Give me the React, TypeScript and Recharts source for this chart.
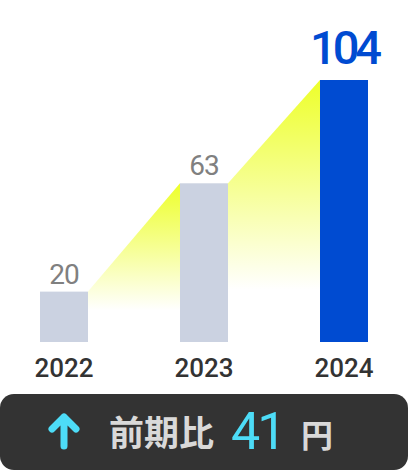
import { Bar, BarChart, LabelList, XAxis, YAxis } from "recharts";

const years = ["2022", "2023", "2024"];
const amounts = [20, 63, 104];
const changeLabel = "前期比";
const changeValue = 41;
const changeUnit = "円";

const chartData = years.map((year, i) => ({ year, amount: amounts[i] }));

const CHART_W = 408;
const CHART_H = 394;
const MARGIN = { top: 80, right: -6, bottom: 0, left: -6 };
const STEP = (CHART_W - MARGIN.left - MARGIN.right) / years.length;
const LAST = years.length - 1;

const GRAY_BAR = "#cbd2e1";
const BLUE_BAR = "#004bd1";

function BarWithRise(props: any) {
  const { x, y, width, height, index, payload } = props;
  const base = y + height;
  let rise = null;
  if (index > 0) {
    const unit = height / payload.amount;
    const prevTop = base - amounts[index - 1] * unit;
    const prevRight = x - STEP + width;
    rise = (
      <polygon
        points={`${prevRight},${prevTop} ${x},${y} ${x},${base} ${prevRight},${base}`}
        fill="url(#riseFill)"
      />
    );
  }
  return (
    <g>
      {rise}
      <rect
        x={x}
        y={y}
        width={width}
        height={height}
        fill={index === LAST ? BLUE_BAR : GRAY_BAR}
      />
    </g>
  );
}

function ValueLabel(props: any) {
  const { x, y, width, value, index } = props;
  const last = index === LAST;
  return (
    <text
      x={x + width / 2}
      y={y - (last ? 16 : 8)}
      textAnchor="middle"
      fill={last ? BLUE_BAR : "#808080"}
      fontFamily="Roboto"
      fontWeight={last ? 500 : 400}
      fontSize={last ? 47 : 28}
      letterSpacing={last ? -4 : -1}
    >
      {value}
    </text>
  );
}

function YearTick(props: any) {
  const { x, y, payload } = props;
  return (
    <text
      x={x}
      y={y + 27}
      textAnchor="middle"
      fill="#333333"
      fontFamily="Roboto"
      fontWeight={500}
      fontSize={26}
    >
      {payload.value}
    </text>
  );
}

export default function App() {
  return (
    <div style={{ width: CHART_W, position: "relative" }}>
      <style>{"body{margin:0}"}</style>
      <BarChart width={CHART_W} height={CHART_H} data={chartData} margin={MARGIN}>
        <defs>
          <linearGradient id="riseFill" x1="0" y1="0" x2="0" y2="1">
            <stop offset="0%" stopColor="#edff2a" stopOpacity={1} />
            <stop offset="40%" stopColor="#f6ff92" stopOpacity={1} />
            <stop offset="80%" stopColor="#ffffff" stopOpacity={1} />
          </linearGradient>
        </defs>
        <XAxis
          dataKey="year"
          axisLine={false}
          tickLine={false}
          height={52}
          tick={<YearTick />}
          interval={0}
        />
        <YAxis hide domain={[0, 104]} />
        <Bar
          dataKey="amount"
          barSize={48}
          shape={<BarWithRise />}
          isAnimationActive={false}
        >
          <LabelList dataKey="amount" content={<ValueLabel />} />
        </Bar>
      </BarChart>
      <div
        style={{
          width: CHART_W,
          height: 76,
          background: "#333333",
          borderRadius: 14,
          position: "relative",
          fontFamily: "'Noto Sans CJK JP', Roboto, sans-serif",
        }}
      >
        <svg
          width={34}
          height={40}
          viewBox="0 0 34 40"
          style={{ position: "absolute", left: 47, top: 17 }}
        >
          <path
            d="M17 35 L17 6 M5 18 L17 6 L29 18"
            stroke="#4ddcf7"
            strokeWidth={7}
            strokeLinecap="round"
            strokeLinejoin="round"
            fill="none"
          />
        </svg>
        <span
          style={{
            position: "absolute",
            left: 109,
            top: 12,
            fontSize: 35,
            fontWeight: 700,
            color: "#d9d9d9",
            lineHeight: "50px",
          }}
        >
          {changeLabel}
        </span>
        <span
          style={{
            position: "absolute",
            left: 231,
            top: 8,
            fontSize: 52,
            fontFamily: "Roboto",
            color: "#4ddcf7",
            letterSpacing: -3,
            lineHeight: "60px",
          }}
        >
          {changeValue}
        </span>
        <span
          style={{
            position: "absolute",
            left: 301,
            top: 14,
            fontSize: 32,
            fontWeight: 700,
            color: "#d9d9d9",
            lineHeight: "50px",
          }}
        >
          {changeUnit}
        </span>
      </div>
    </div>
  );
}
